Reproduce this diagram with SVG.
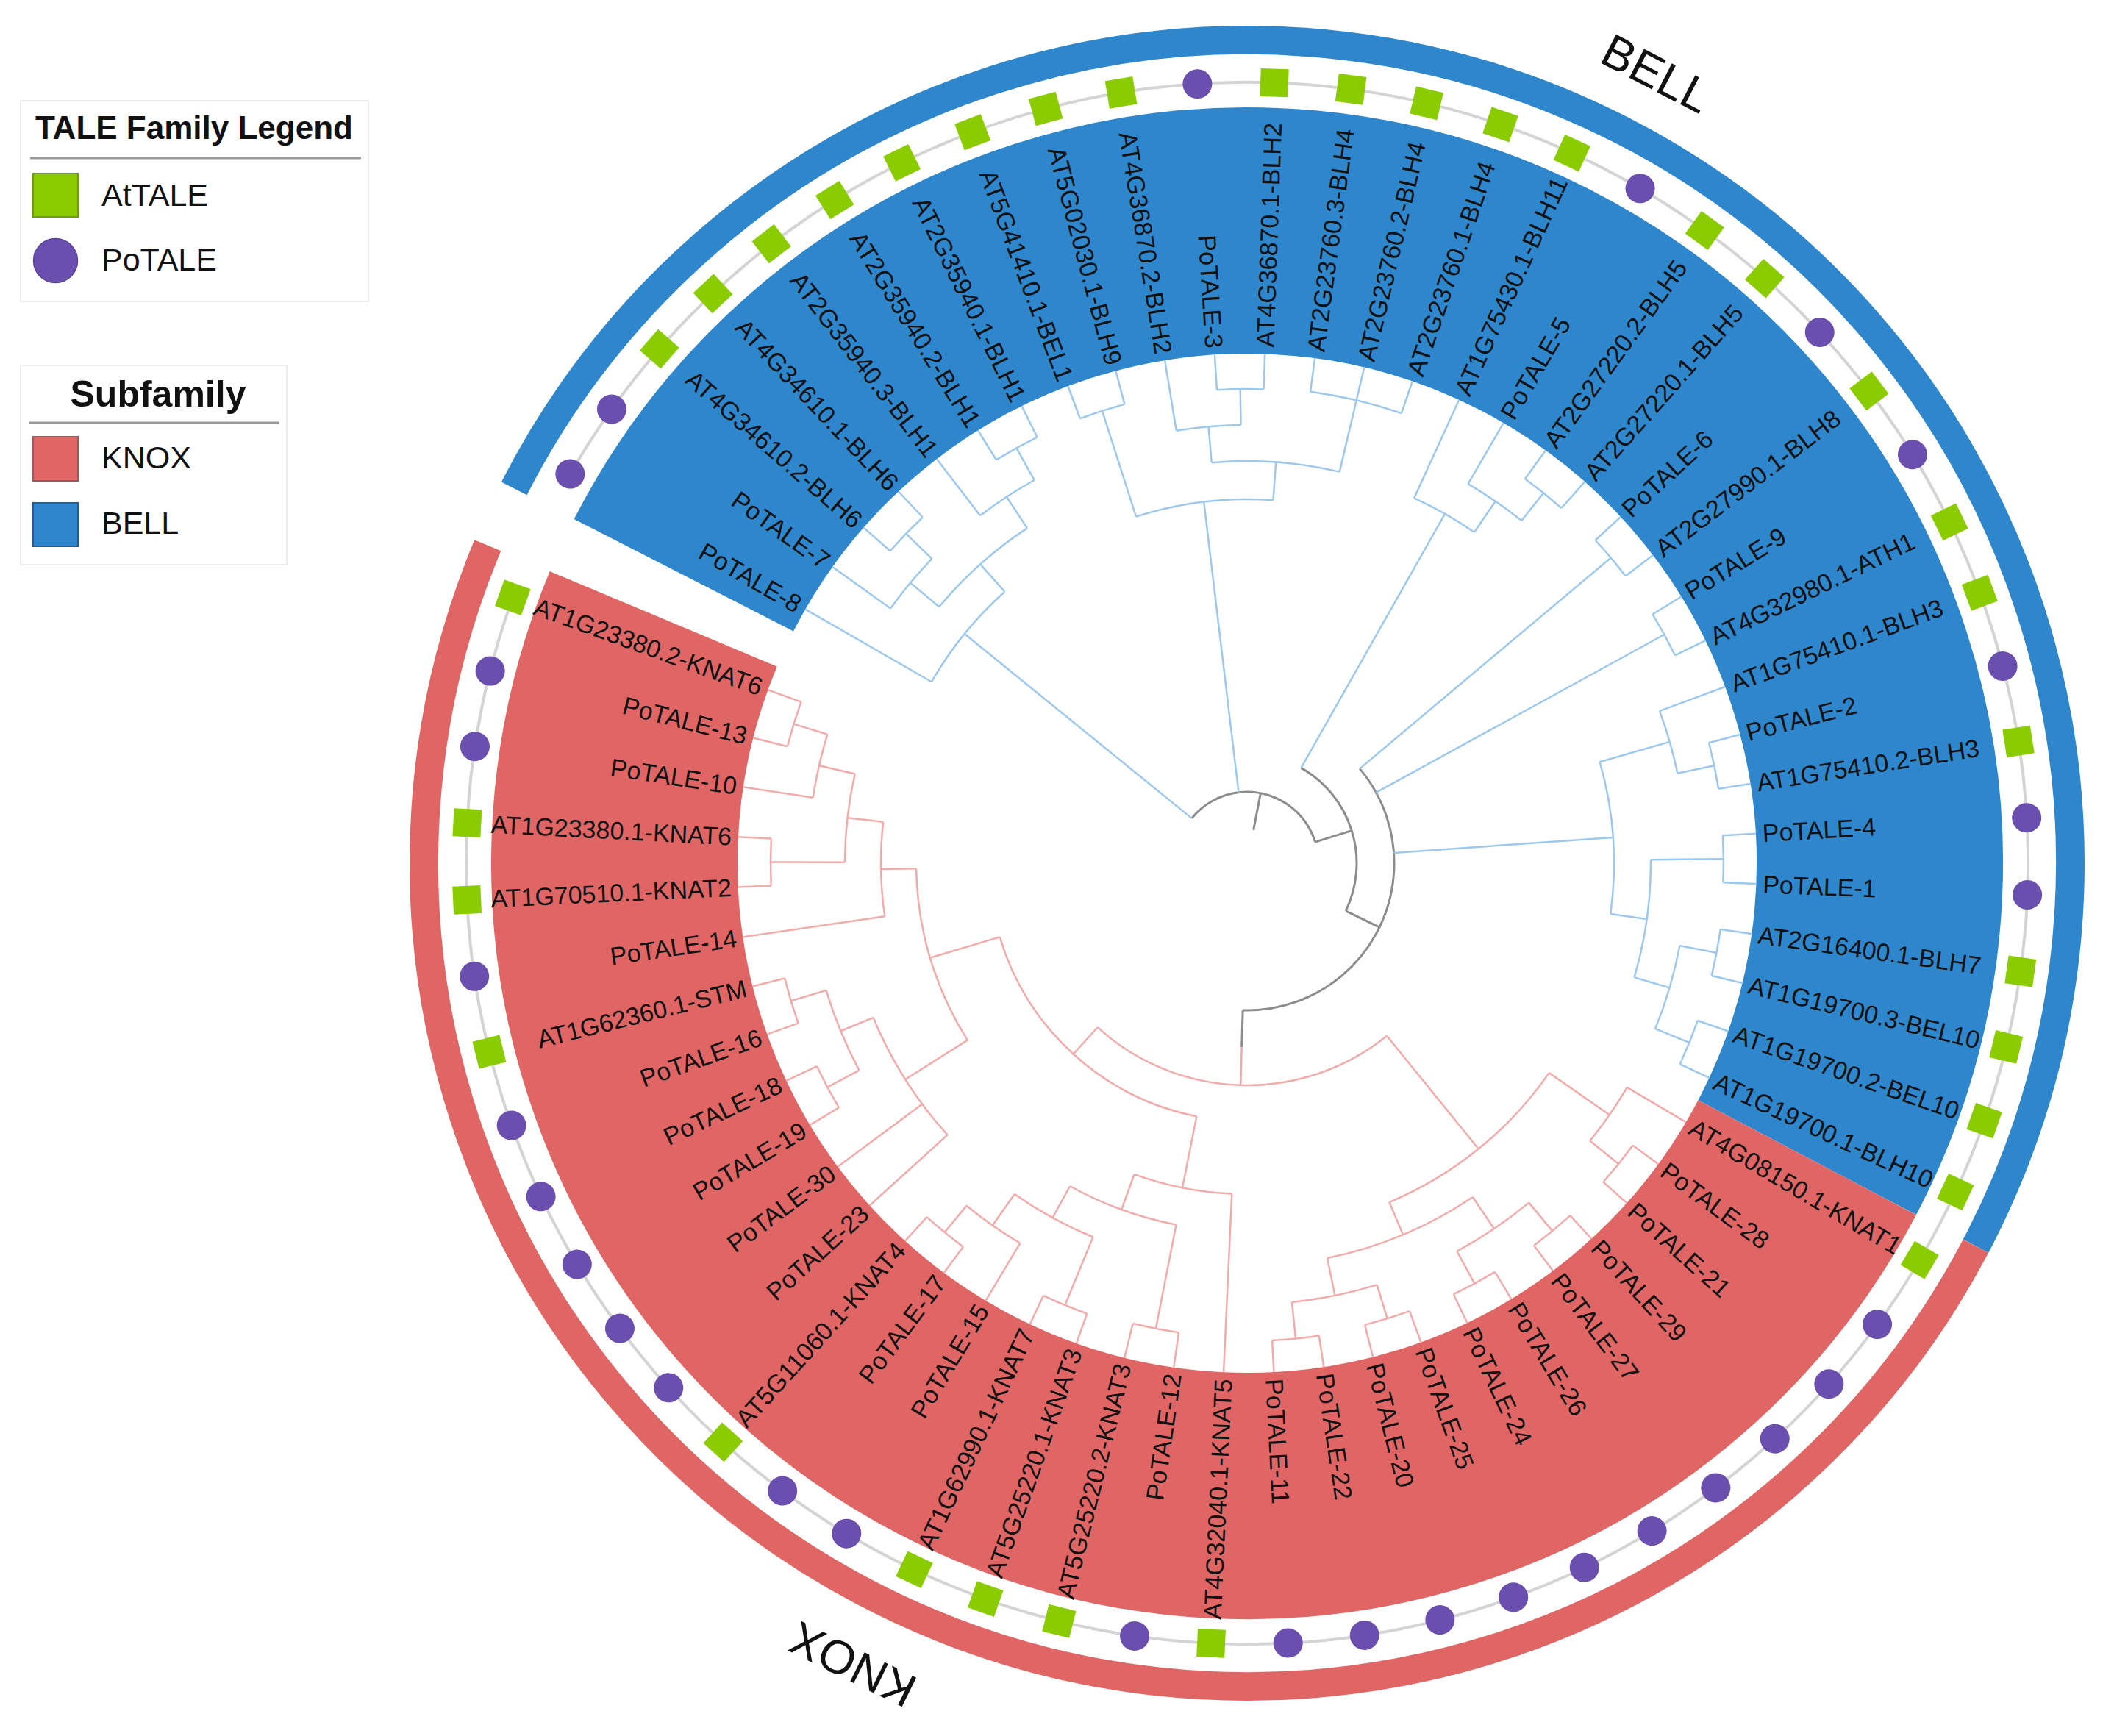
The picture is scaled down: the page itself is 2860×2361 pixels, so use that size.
<svg xmlns="http://www.w3.org/2000/svg" xmlns:xlink="http://www.w3.org/1999/xlink" width="2860" height="2361" viewBox="0 0 2860 2361">
<defs>
<style>
.b{stroke:#9dc8ee;stroke-width:2.5;fill:none}
.k{stroke:#f2abab;stroke-width:2.5;fill:none}
.g{stroke:#8c8c8c;stroke-width:3;fill:none}
.lbl{font-family:"Liberation Sans",Arial,sans-serif;font-size:34px;fill:#111}
.leg{font-family:"Liberation Sans",Arial,sans-serif;font-size:43px;fill:#111}
.legt{font-family:"Liberation Sans",Arial,sans-serif;font-weight:bold;fill:#111}
.big{font-family:"Liberation Sans",Arial,sans-serif;font-size:64px;fill:#111}
</style>
<rect id="sq" x="-19" y="-19" width="38" height="38" fill="#8bcc00"/>
<circle id="dot" r="20" fill="#6b4fae"/>
</defs>
<rect width="2860" height="2361" fill="#ffffff"/>

<g id="legend-family">
<rect x="28" y="137" width="473" height="273" fill="#fff" stroke="#ececec" stroke-width="2"/>
<text class="legt" x="48" y="189" font-size="44">TALE Family Legend</text>
<line x1="41" y1="215" x2="491" y2="215" stroke="#9a9a9a" stroke-width="3"/>
<rect x="45" y="236" width="61" height="59" fill="#8bcc00" stroke="#6f9a18" stroke-width="2"/>
<text class="leg" x="138" y="280">AtTALE</text>
<circle cx="75.5" cy="354.5" r="30" fill="#6b4fae" stroke="#5a4296" stroke-width="1.5"/>
<text class="leg" x="138" y="368">PoTALE</text>
</g>
<g id="legend-subfamily">
<rect x="28" y="497" width="362" height="271" fill="#fff" stroke="#ececec" stroke-width="2"/>
<text class="legt" x="215" y="553" font-size="50" text-anchor="middle">Subfamily</text>
<line x1="40" y1="575" x2="380" y2="575" stroke="#9a9a9a" stroke-width="3"/>
<rect x="45" y="594" width="61" height="60" fill="#e06666" stroke="#9a5a5a" stroke-width="2"/>
<text class="leg" x="138" y="637">KNOX</text>
<rect x="45" y="684" width="61" height="59" fill="#2e86cc" stroke="#1f5f99" stroke-width="2"/>
<text class="leg" x="138" y="726">BELL</text>
</g>

<g id="tree" transform="translate(1696,1174)">
<g id="bands" fill="none">
<circle r="860.5" stroke="#2e86cc" stroke-width="335" pathLength="360" stroke-dasharray="180.64 360" transform="rotate(207.08)"/>
<circle r="860.5" stroke="#e06666" stroke-width="335" pathLength="360" stroke-dasharray="174.99 360" transform="rotate(27.72)"/>
<circle r="1119.5" stroke="#2e86cc" stroke-width="39" pathLength="360" stroke-dasharray="180.64 360" transform="rotate(207.08)"/>
<circle r="1119.5" stroke="#e06666" stroke-width="39" pathLength="360" stroke-dasharray="174.99 360" transform="rotate(27.72)"/>
<circle r="1062" stroke="#d4d4d4" stroke-width="4" pathLength="360" stroke-dasharray="349.99 360" transform="rotate(209.9)"/>
</g>

<g id="connectors">
<circle class="b" r="645" pathLength="360" stroke-dasharray="5.65 360" transform="rotate(221.19)"/>
<circle class="b" r="596" pathLength="360" stroke-dasharray="8.47 360" transform="rotate(215.55)"/>
<circle class="b" r="646" pathLength="360" stroke-dasharray="5.64 360" transform="rotate(238.13)"/>
<circle class="b" r="596" pathLength="360" stroke-dasharray="8.47 360" transform="rotate(232.48)"/>
<circle class="b" r="545" pathLength="360" stroke-dasharray="16.94 360" transform="rotate(219.78)"/>
<circle class="b" r="495" pathLength="360" stroke-dasharray="18.35 360" transform="rotate(209.90)"/>
<circle class="b" r="646" pathLength="360" stroke-dasharray="5.64 360" transform="rotate(249.42)"/>
<circle class="b" r="645" pathLength="360" stroke-dasharray="5.65 360" transform="rotate(266.35)"/>
<circle class="b" r="596" pathLength="360" stroke-dasharray="8.47 360" transform="rotate(260.71)"/>
<circle class="b" r="647" pathLength="360" stroke-dasharray="11.29 360" transform="rotate(277.64)"/>
<circle class="b" r="547" pathLength="360" stroke-dasharray="18.35 360" transform="rotate(264.94)"/>
<circle class="b" r="495" pathLength="360" stroke-dasharray="21.87 360" transform="rotate(252.24)"/>
<circle class="b" r="645" pathLength="360" stroke-dasharray="5.64 360" transform="rotate(305.87)"/>
<circle class="b" r="597" pathLength="360" stroke-dasharray="8.47 360" transform="rotate(300.22)"/>
<circle class="b" r="546" pathLength="360" stroke-dasharray="9.88 360" transform="rotate(294.58)"/>
<circle class="b" r="646" pathLength="360" stroke-dasharray="5.64 360" transform="rotate(317.16)"/>
<circle class="b" r="647" pathLength="360" stroke-dasharray="5.64 360" transform="rotate(328.45)"/>
<circle class="b" r="649" pathLength="360" stroke-dasharray="5.65 360" transform="rotate(345.38)"/>
<circle class="b" r="598" pathLength="360" stroke-dasharray="8.46 360" transform="rotate(339.74)"/>
<circle class="b" r="648" pathLength="360" stroke-dasharray="5.65 360" transform="rotate(356.67)"/>
<circle class="b" r="650" pathLength="360" stroke-dasharray="5.65 360" transform="rotate(367.96)"/>
<circle class="b" r="649" pathLength="360" stroke-dasharray="5.65 360" transform="rotate(379.25)"/>
<circle class="b" r="599" pathLength="360" stroke-dasharray="11.29 360" transform="rotate(370.79)"/>
<circle class="b" r="549" pathLength="360" stroke-dasharray="16.93 360" transform="rotate(359.5)"/>
<circle class="b" r="499" pathLength="360" stroke-dasharray="23.99 360" transform="rotate(343.97)"/>
<circle class="g" r="200" pathLength="360" stroke-dasharray="131.69 360" transform="rotate(319.98)"/>
<circle class="g" r="149" pathLength="360" stroke-dasharray="86.28 360" transform="rotate(299.52)"/>
<circle class="g" r="97" pathLength="360" stroke-dasharray="123.59 360" transform="rotate(219.07)"/>
<circle class="k" r="302" pathLength="360" stroke-dasharray="81.33 360" transform="rotate(51.0)"/>
<circle class="k" r="500" pathLength="360" stroke-dasharray="32.47 360" transform="rotate(34.77)"/>
<circle class="k" r="600" pathLength="360" stroke-dasharray="8.46 360" transform="rotate(30.54)"/>
<circle class="k" r="650" pathLength="360" stroke-dasharray="5.64 360" transform="rotate(36.19)"/>
<circle class="k" r="548" pathLength="360" stroke-dasharray="22.57 360" transform="rotate(55.95)"/>
<circle class="k" r="600" pathLength="360" stroke-dasharray="11.29 360" transform="rotate(50.3)"/>
<circle class="k" r="650" pathLength="360" stroke-dasharray="5.64 360" transform="rotate(47.48)"/>
<circle class="k" r="650" pathLength="360" stroke-dasharray="5.64 360" transform="rotate(58.77)"/>
<circle class="k" r="600" pathLength="360" stroke-dasharray="11.29 360" transform="rotate(72.88)"/>
<circle class="k" r="648" pathLength="360" stroke-dasharray="5.64 360" transform="rotate(70.06)"/>
<circle class="k" r="650" pathLength="360" stroke-dasharray="5.64 360" transform="rotate(81.35)"/>
<circle class="k" r="351" pathLength="360" stroke-dasharray="62.1 360" transform="rotate(101.28)"/>
<circle class="k" r="450" pathLength="360" stroke-dasharray="17.29 360" transform="rotate(92.64)"/>
<circle class="k" r="501" pathLength="360" stroke-dasharray="17.65 360" transform="rotate(101.1)"/>
<circle class="k" r="645" pathLength="360" stroke-dasharray="5.65 360" transform="rotate(98.28)"/>
<circle class="k" r="550" pathLength="360" stroke-dasharray="12.7 360" transform="rotate(112.4)"/>
<circle class="k" r="650" pathLength="360" stroke-dasharray="5.65 360" transform="rotate(109.57)"/>
<circle class="k" r="602" pathLength="360" stroke-dasharray="8.47 360" transform="rotate(120.86)"/>
<circle class="k" r="649" pathLength="360" stroke-dasharray="5.64 360" transform="rotate(126.51)"/>
<circle class="k" r="450" pathLength="360" stroke-dasharray="31.4 360" transform="rotate(147.68)"/>
<circle class="k" r="550" pathLength="360" stroke-dasharray="19.76 360" transform="rotate(137.8)"/>
<circle class="k" r="598" pathLength="360" stroke-dasharray="11.29 360" transform="rotate(151.91)"/>
<circle class="k" r="647" pathLength="360" stroke-dasharray="5.64 360" transform="rotate(149.09)"/>
<circle class="k" r="648" pathLength="360" stroke-dasharray="5.64 360" transform="rotate(160.38)"/>
<circle class="k" r="498" pathLength="360" stroke-dasharray="14.81 360" transform="rotate(171.67)"/>
<circle class="k" r="547" pathLength="360" stroke-dasharray="12.71 360" transform="rotate(180.13)"/>
<circle class="k" r="648" pathLength="360" stroke-dasharray="5.65 360" transform="rotate(177.31)"/>
<circle class="k" r="597" pathLength="360" stroke-dasharray="8.47 360" transform="rotate(188.6)"/>
<circle class="k" r="645" pathLength="360" stroke-dasharray="5.64 360" transform="rotate(194.25)"/>

<line class="b" x1="495" x2="693" transform="rotate(209.90)"/>
<line class="b" x1="596" x2="693" transform="rotate(215.55)"/>
<line class="b" x1="645" x2="693" transform="rotate(221.19)"/>
<line class="b" x1="645" x2="693" transform="rotate(226.84)"/>
<line class="b" x1="596" x2="693" transform="rotate(232.48)"/>
<line class="b" x1="646" x2="693" transform="rotate(238.13)"/>
<line class="b" x1="646" x2="693" transform="rotate(243.77)"/>
<line class="b" x1="646" x2="693" transform="rotate(249.42)"/>
<line class="b" x1="646" x2="693" transform="rotate(255.06)"/>
<line class="b" x1="596" x2="693" transform="rotate(260.71)"/>
<line class="b" x1="645" x2="693" transform="rotate(266.35)"/>
<line class="b" x1="645" x2="693" transform="rotate(272.00)"/>
<line class="b" x1="647" x2="693" transform="rotate(277.64)"/>
<line class="b" x1="647" x2="693" transform="rotate(283.29)"/>
<line class="b" x1="647" x2="693" transform="rotate(288.93)"/>
<line class="b" x1="546" x2="693" transform="rotate(294.58)"/>
<line class="b" x1="597" x2="693" transform="rotate(300.22)"/>
<line class="b" x1="645" x2="693" transform="rotate(305.87)"/>
<line class="b" x1="645" x2="693" transform="rotate(311.51)"/>
<line class="b" x1="646" x2="693" transform="rotate(317.16)"/>
<line class="b" x1="646" x2="693" transform="rotate(322.80)"/>
<line class="b" x1="647" x2="693" transform="rotate(328.45)"/>
<line class="b" x1="647" x2="693" transform="rotate(334.09)"/>
<line class="b" x1="598" x2="693" transform="rotate(339.74)"/>
<line class="b" x1="649" x2="693" transform="rotate(345.38)"/>
<line class="b" x1="649" x2="693" transform="rotate(351.03)"/>
<line class="b" x1="648" x2="693" transform="rotate(356.67)"/>
<line class="b" x1="648" x2="693" transform="rotate(362.32)"/>
<line class="b" x1="650" x2="693" transform="rotate(367.96)"/>
<line class="b" x1="650" x2="693" transform="rotate(373.61)"/>
<line class="b" x1="649" x2="693" transform="rotate(379.25)"/>
<line class="b" x1="649" x2="693" transform="rotate(384.90)"/>
<line class="b" x1="596" x2="645" transform="rotate(224.02)"/>
<line class="b" x1="596" x2="646" transform="rotate(240.95)"/>
<line class="b" x1="545" x2="596" transform="rotate(219.78)"/>
<line class="b" x1="545" x2="596" transform="rotate(236.72)"/>
<line class="b" x1="495" x2="545" transform="rotate(228.25)"/>
<line class="b" x1="97" x2="495" transform="rotate(219.07)"/>
<line class="b" x1="495" x2="646" transform="rotate(252.24)"/>
<line class="b" x1="596" x2="645" transform="rotate(269.18)"/>
<line class="b" x1="547" x2="596" transform="rotate(264.94)"/>
<line class="b" x1="547" x2="647" transform="rotate(283.29)"/>
<line class="b" x1="495" x2="547" transform="rotate(274.11)"/>
<line class="b" x1="97" x2="495" transform="rotate(263.18)"/>
<line class="b" x1="597" x2="645" transform="rotate(308.69)"/>
<line class="b" x1="546" x2="597" transform="rotate(304.46)"/>
<line class="b" x1="149" x2="546" transform="rotate(299.52)"/>
<line class="b" x1="200" x2="646" transform="rotate(319.98)"/>
<line class="b" x1="200" x2="647" transform="rotate(331.27)"/>
<line class="b" x1="598" x2="649" transform="rotate(348.2)"/>
<line class="b" x1="599" x2="650" transform="rotate(370.79)"/>
<line class="b" x1="599" x2="649" transform="rotate(382.08)"/>
<line class="b" x1="549" x2="648" transform="rotate(359.5)"/>
<line class="b" x1="549" x2="599" transform="rotate(376.43)"/>
<line class="b" x1="499" x2="598" transform="rotate(343.97)"/>
<line class="b" x1="499" x2="549" transform="rotate(367.96)"/>
<line class="b" x1="200" x2="499" transform="rotate(355.97)"/>
<line class="g" x1="149" x2="200" transform="rotate(385.8)"/>
<line class="g" x1="97" x2="149" transform="rotate(342.66)"/>
<line class="g" x1="46" x2="97" transform="rotate(280.9)"/>
<line class="g" x1="200" x2="250" transform="rotate(91.67)"/>
<line class="k" x1="250" x2="302" transform="rotate(91.67)"/>
<line class="k" x1="600" x2="693" transform="rotate(30.54)"/>
<line class="k" x1="650" x2="693" transform="rotate(36.19)"/>
<line class="k" x1="650" x2="693" transform="rotate(41.83)"/>
<line class="k" x1="650" x2="693" transform="rotate(47.48)"/>
<line class="k" x1="650" x2="693" transform="rotate(53.12)"/>
<line class="k" x1="650" x2="693" transform="rotate(58.77)"/>
<line class="k" x1="650" x2="693" transform="rotate(64.41)"/>
<line class="k" x1="648" x2="693" transform="rotate(70.06)"/>
<line class="k" x1="648" x2="693" transform="rotate(75.70)"/>
<line class="k" x1="650" x2="693" transform="rotate(81.35)"/>
<line class="k" x1="650" x2="693" transform="rotate(86.99)"/>
<line class="k" x1="450" x2="693" transform="rotate(92.64)"/>
<line class="k" x1="645" x2="693" transform="rotate(98.28)"/>
<line class="k" x1="645" x2="693" transform="rotate(103.93)"/>
<line class="k" x1="650" x2="693" transform="rotate(109.57)"/>
<line class="k" x1="650" x2="693" transform="rotate(115.22)"/>
<line class="k" x1="602" x2="693" transform="rotate(120.86)"/>
<line class="k" x1="649" x2="693" transform="rotate(126.51)"/>
<line class="k" x1="649" x2="693" transform="rotate(132.15)"/>
<line class="k" x1="550" x2="693" transform="rotate(137.80)"/>
<line class="k" x1="550" x2="693" transform="rotate(143.44)"/>
<line class="k" x1="647" x2="693" transform="rotate(149.09)"/>
<line class="k" x1="647" x2="693" transform="rotate(154.73)"/>
<line class="k" x1="648" x2="693" transform="rotate(160.38)"/>
<line class="k" x1="648" x2="693" transform="rotate(166.02)"/>
<line class="k" x1="498" x2="693" transform="rotate(171.67)"/>
<line class="k" x1="648" x2="693" transform="rotate(177.31)"/>
<line class="k" x1="648" x2="693" transform="rotate(182.96)"/>
<line class="k" x1="597" x2="693" transform="rotate(188.60)"/>
<line class="k" x1="645" x2="693" transform="rotate(194.25)"/>
<line class="k" x1="645" x2="693" transform="rotate(199.89)"/>
<line class="k" x1="302" x2="500" transform="rotate(51.0)"/>
<line class="k" x1="500" x2="600" transform="rotate(34.77)"/>
<line class="k" x1="600" x2="650" transform="rotate(39.0)"/>
<line class="k" x1="500" x2="548" transform="rotate(67.24)"/>
<line class="k" x1="548" x2="600" transform="rotate(55.95)"/>
<line class="k" x1="600" x2="650" transform="rotate(50.3)"/>
<line class="k" x1="600" x2="650" transform="rotate(61.59)"/>
<line class="k" x1="548" x2="600" transform="rotate(78.52)"/>
<line class="k" x1="600" x2="648" transform="rotate(72.88)"/>
<line class="k" x1="600" x2="650" transform="rotate(84.17)"/>
<line class="k" x1="302" x2="351" transform="rotate(132.33)"/>
<line class="k" x1="351" x2="450" transform="rotate(101.28)"/>
<line class="k" x1="450" x2="501" transform="rotate(109.93)"/>
<line class="k" x1="501" x2="645" transform="rotate(101.1)"/>
<line class="k" x1="501" x2="550" transform="rotate(118.75)"/>
<line class="k" x1="550" x2="650" transform="rotate(112.4)"/>
<line class="k" x1="550" x2="602" transform="rotate(125.1)"/>
<line class="k" x1="602" x2="649" transform="rotate(129.33)"/>
<line class="k" x1="351" x2="450" transform="rotate(163.38)"/>
<line class="k" x1="450" x2="550" transform="rotate(147.68)"/>
<line class="k" x1="550" x2="598" transform="rotate(157.56)"/>
<line class="k" x1="598" x2="647" transform="rotate(151.91)"/>
<line class="k" x1="598" x2="648" transform="rotate(163.2)"/>
<line class="k" x1="450" x2="498" transform="rotate(179.08)"/>
<line class="k" x1="498" x2="547" transform="rotate(186.48)"/>
<line class="k" x1="547" x2="648" transform="rotate(180.13)"/>
<line class="k" x1="547" x2="597" transform="rotate(192.84)"/>
<line class="k" x1="597" x2="645" transform="rotate(197.07)"/>
</g>

<g id="n1"><text class="lbl" x="-702" dy=".35em" text-anchor="end" transform="rotate(29.90)">PoTALE-8</text><use href="#dot" x="1062" transform="rotate(209.90)"/></g>
<g id="n2"><text class="lbl" x="-702" dy=".35em" text-anchor="end" transform="rotate(35.55)">PoTALE-7</text><use href="#dot" x="1062" transform="rotate(215.55)"/></g>
<g id="n3"><text class="lbl" x="-702" dy=".35em" text-anchor="end" transform="rotate(41.19)">AT4G34610.2-BLH6</text><use href="#sq" x="1062" transform="rotate(221.19)"/></g>
<g id="n4"><text class="lbl" x="-702" dy=".35em" text-anchor="end" transform="rotate(46.84)">AT4G34610.1-BLH6</text><use href="#sq" x="1062" transform="rotate(226.84)"/></g>
<g id="n5"><text class="lbl" x="-702" dy=".35em" text-anchor="end" transform="rotate(52.48)">AT2G35940.3-BLH1</text><use href="#sq" x="1062" transform="rotate(232.48)"/></g>
<g id="n6"><text class="lbl" x="-702" dy=".35em" text-anchor="end" transform="rotate(58.13)">AT2G35940.2-BLH1</text><use href="#sq" x="1062" transform="rotate(238.13)"/></g>
<g id="n7"><text class="lbl" x="-702" dy=".35em" text-anchor="end" transform="rotate(63.77)">AT2G35940.1-BLH1</text><use href="#sq" x="1062" transform="rotate(243.77)"/></g>
<g id="n8"><text class="lbl" x="-702" dy=".35em" text-anchor="end" transform="rotate(69.42)">AT5G41410.1-BEL1</text><use href="#sq" x="1062" transform="rotate(249.42)"/></g>
<g id="n9"><text class="lbl" x="-702" dy=".35em" text-anchor="end" transform="rotate(75.06)">AT5G02030.1-BLH9</text><use href="#sq" x="1062" transform="rotate(255.06)"/></g>
<g id="n10"><text class="lbl" x="-702" dy=".35em" text-anchor="end" transform="rotate(80.71)">AT4G36870.2-BLH2</text><use href="#sq" x="1062" transform="rotate(260.71)"/></g>
<g id="n11"><text class="lbl" x="-702" dy=".35em" text-anchor="end" transform="rotate(86.35)">PoTALE-3</text><use href="#dot" x="1062" transform="rotate(266.35)"/></g>
<g id="n12"><text class="lbl" x="702" dy=".35em" transform="rotate(272.00)">AT4G36870.1-BLH2</text><use href="#sq" x="1062" transform="rotate(272.00)"/></g>
<g id="n13"><text class="lbl" x="702" dy=".35em" transform="rotate(277.64)">AT2G23760.3-BLH4</text><use href="#sq" x="1062" transform="rotate(277.64)"/></g>
<g id="n14"><text class="lbl" x="702" dy=".35em" transform="rotate(283.29)">AT2G23760.2-BLH4</text><use href="#sq" x="1062" transform="rotate(283.29)"/></g>
<g id="n15"><text class="lbl" x="702" dy=".35em" transform="rotate(288.93)">AT2G23760.1-BLH4</text><use href="#sq" x="1062" transform="rotate(288.93)"/></g>
<g id="n16"><text class="lbl" x="702" dy=".35em" transform="rotate(294.58)">AT1G75430.1-BLH11</text><use href="#sq" x="1062" transform="rotate(294.58)"/></g>
<g id="n17"><text class="lbl" x="702" dy=".35em" transform="rotate(300.22)">PoTALE-5</text><use href="#dot" x="1062" transform="rotate(300.22)"/></g>
<g id="n18"><text class="lbl" x="702" dy=".35em" transform="rotate(305.87)">AT2G27220.2-BLH5</text><use href="#sq" x="1062" transform="rotate(305.87)"/></g>
<g id="n19"><text class="lbl" x="702" dy=".35em" transform="rotate(311.51)">AT2G27220.1-BLH5</text><use href="#sq" x="1062" transform="rotate(311.51)"/></g>
<g id="n20"><text class="lbl" x="702" dy=".35em" transform="rotate(317.16)">PoTALE-6</text><use href="#dot" x="1062" transform="rotate(317.16)"/></g>
<g id="n21"><text class="lbl" x="702" dy=".35em" transform="rotate(322.80)">AT2G27990.1-BLH8</text><use href="#sq" x="1062" transform="rotate(322.80)"/></g>
<g id="n22"><text class="lbl" x="702" dy=".35em" transform="rotate(328.45)">PoTALE-9</text><use href="#dot" x="1062" transform="rotate(328.45)"/></g>
<g id="n23"><text class="lbl" x="702" dy=".35em" transform="rotate(334.09)">AT4G32980.1-ATH1</text><use href="#sq" x="1062" transform="rotate(334.09)"/></g>
<g id="n24"><text class="lbl" x="702" dy=".35em" transform="rotate(339.74)">AT1G75410.1-BLH3</text><use href="#sq" x="1062" transform="rotate(339.74)"/></g>
<g id="n25"><text class="lbl" x="702" dy=".35em" transform="rotate(345.38)">PoTALE-2</text><use href="#dot" x="1062" transform="rotate(345.38)"/></g>
<g id="n26"><text class="lbl" x="702" dy=".35em" transform="rotate(351.03)">AT1G75410.2-BLH3</text><use href="#sq" x="1062" transform="rotate(351.03)"/></g>
<g id="n27"><text class="lbl" x="702" dy=".35em" transform="rotate(356.67)">PoTALE-4</text><use href="#dot" x="1062" transform="rotate(356.67)"/></g>
<g id="n28"><text class="lbl" x="702" dy=".35em" transform="rotate(2.32)">PoTALE-1</text><use href="#dot" x="1062" transform="rotate(2.32)"/></g>
<g id="n29"><text class="lbl" x="702" dy=".35em" transform="rotate(7.96)">AT2G16400.1-BLH7</text><use href="#sq" x="1062" transform="rotate(7.96)"/></g>
<g id="n30"><text class="lbl" x="702" dy=".35em" transform="rotate(13.61)">AT1G19700.3-BEL10</text><use href="#sq" x="1062" transform="rotate(13.61)"/></g>
<g id="n31"><text class="lbl" x="702" dy=".35em" transform="rotate(19.25)">AT1G19700.2-BEL10</text><use href="#sq" x="1062" transform="rotate(19.25)"/></g>
<g id="n32"><text class="lbl" x="702" dy=".35em" transform="rotate(24.90)">AT1G19700.1-BLH10</text><use href="#sq" x="1062" transform="rotate(24.90)"/></g>
<g id="n33"><text class="lbl" x="702" dy=".35em" transform="rotate(30.54)">AT4G08150.1-KNAT1</text><use href="#sq" x="1062" transform="rotate(30.54)"/></g>
<g id="n34"><text class="lbl" x="702" dy=".35em" transform="rotate(36.19)">PoTALE-28</text><use href="#dot" x="1062" transform="rotate(36.19)"/></g>
<g id="n35"><text class="lbl" x="702" dy=".35em" transform="rotate(41.83)">PoTALE-21</text><use href="#dot" x="1062" transform="rotate(41.83)"/></g>
<g id="n36"><text class="lbl" x="702" dy=".35em" transform="rotate(47.48)">PoTALE-29</text><use href="#dot" x="1062" transform="rotate(47.48)"/></g>
<g id="n37"><text class="lbl" x="702" dy=".35em" transform="rotate(53.12)">PoTALE-27</text><use href="#dot" x="1062" transform="rotate(53.12)"/></g>
<g id="n38"><text class="lbl" x="702" dy=".35em" transform="rotate(58.77)">PoTALE-26</text><use href="#dot" x="1062" transform="rotate(58.77)"/></g>
<g id="n39"><text class="lbl" x="702" dy=".35em" transform="rotate(64.41)">PoTALE-24</text><use href="#dot" x="1062" transform="rotate(64.41)"/></g>
<g id="n40"><text class="lbl" x="702" dy=".35em" transform="rotate(70.06)">PoTALE-25</text><use href="#dot" x="1062" transform="rotate(70.06)"/></g>
<g id="n41"><text class="lbl" x="702" dy=".35em" transform="rotate(75.70)">PoTALE-20</text><use href="#dot" x="1062" transform="rotate(75.70)"/></g>
<g id="n42"><text class="lbl" x="702" dy=".35em" transform="rotate(81.35)">PoTALE-22</text><use href="#dot" x="1062" transform="rotate(81.35)"/></g>
<g id="n43"><text class="lbl" x="702" dy=".35em" transform="rotate(86.99)">PoTALE-11</text><use href="#dot" x="1062" transform="rotate(86.99)"/></g>
<g id="n44"><text class="lbl" x="-702" dy=".35em" text-anchor="end" transform="rotate(-87.36)">AT4G32040.1-KNAT5</text><use href="#sq" x="1062" transform="rotate(92.64)"/></g>
<g id="n45"><text class="lbl" x="-702" dy=".35em" text-anchor="end" transform="rotate(-81.72)">PoTALE-12</text><use href="#dot" x="1062" transform="rotate(98.28)"/></g>
<g id="n46"><text class="lbl" x="-702" dy=".35em" text-anchor="end" transform="rotate(-76.07)">AT5G25220.2-KNAT3</text><use href="#sq" x="1062" transform="rotate(103.93)"/></g>
<g id="n47"><text class="lbl" x="-702" dy=".35em" text-anchor="end" transform="rotate(-70.43)">AT5G25220.1-KNAT3</text><use href="#sq" x="1062" transform="rotate(109.57)"/></g>
<g id="n48"><text class="lbl" x="-702" dy=".35em" text-anchor="end" transform="rotate(-64.78)">AT1G62990.1-KNAT7</text><use href="#sq" x="1062" transform="rotate(115.22)"/></g>
<g id="n49"><text class="lbl" x="-702" dy=".35em" text-anchor="end" transform="rotate(-59.14)">PoTALE-15</text><use href="#dot" x="1062" transform="rotate(120.86)"/></g>
<g id="n50"><text class="lbl" x="-702" dy=".35em" text-anchor="end" transform="rotate(-53.49)">PoTALE-17</text><use href="#dot" x="1062" transform="rotate(126.51)"/></g>
<g id="n51"><text class="lbl" x="-702" dy=".35em" text-anchor="end" transform="rotate(-47.85)">AT5G11060.1-KNAT4</text><use href="#sq" x="1062" transform="rotate(132.15)"/></g>
<g id="n52"><text class="lbl" x="-702" dy=".35em" text-anchor="end" transform="rotate(-42.20)">PoTALE-23</text><use href="#dot" x="1062" transform="rotate(137.80)"/></g>
<g id="n53"><text class="lbl" x="-702" dy=".35em" text-anchor="end" transform="rotate(-36.56)">PoTALE-30</text><use href="#dot" x="1062" transform="rotate(143.44)"/></g>
<g id="n54"><text class="lbl" x="-702" dy=".35em" text-anchor="end" transform="rotate(-30.91)">PoTALE-19</text><use href="#dot" x="1062" transform="rotate(149.09)"/></g>
<g id="n55"><text class="lbl" x="-702" dy=".35em" text-anchor="end" transform="rotate(-25.27)">PoTALE-18</text><use href="#dot" x="1062" transform="rotate(154.73)"/></g>
<g id="n56"><text class="lbl" x="-702" dy=".35em" text-anchor="end" transform="rotate(-19.62)">PoTALE-16</text><use href="#dot" x="1062" transform="rotate(160.38)"/></g>
<g id="n57"><text class="lbl" x="-702" dy=".35em" text-anchor="end" transform="rotate(-13.98)">AT1G62360.1-STM</text><use href="#sq" x="1062" transform="rotate(166.02)"/></g>
<g id="n58"><text class="lbl" x="-702" dy=".35em" text-anchor="end" transform="rotate(-8.33)">PoTALE-14</text><use href="#dot" x="1062" transform="rotate(171.67)"/></g>
<g id="n59"><text class="lbl" x="-702" dy=".35em" text-anchor="end" transform="rotate(-2.69)">AT1G70510.1-KNAT2</text><use href="#sq" x="1062" transform="rotate(177.31)"/></g>
<g id="n60"><text class="lbl" x="-702" dy=".35em" text-anchor="end" transform="rotate(2.96)">AT1G23380.1-KNAT6</text><use href="#sq" x="1062" transform="rotate(182.96)"/></g>
<g id="n61"><text class="lbl" x="-702" dy=".35em" text-anchor="end" transform="rotate(8.60)">PoTALE-10</text><use href="#dot" x="1062" transform="rotate(188.60)"/></g>
<g id="n62"><text class="lbl" x="-702" dy=".35em" text-anchor="end" transform="rotate(14.25)">PoTALE-13</text><use href="#dot" x="1062" transform="rotate(194.25)"/></g>
<g id="n63"><text class="lbl" x="-702" dy=".35em" text-anchor="end" transform="rotate(19.89)">AT1G23380.2-KNAT6</text><use href="#sq" x="1062" transform="rotate(199.89)"/></g>

<g id="clade-BELL"><text class="big" text-anchor="middle" dy=".35em" transform="rotate(-62.6) translate(1210,0) rotate(90)">BELL</text></g>
<g id="clade-KNOX"><text class="big" text-anchor="middle" dy=".35em" transform="rotate(116.2) translate(1215,0) rotate(90)">KNOX</text></g>
</g>
</svg>
